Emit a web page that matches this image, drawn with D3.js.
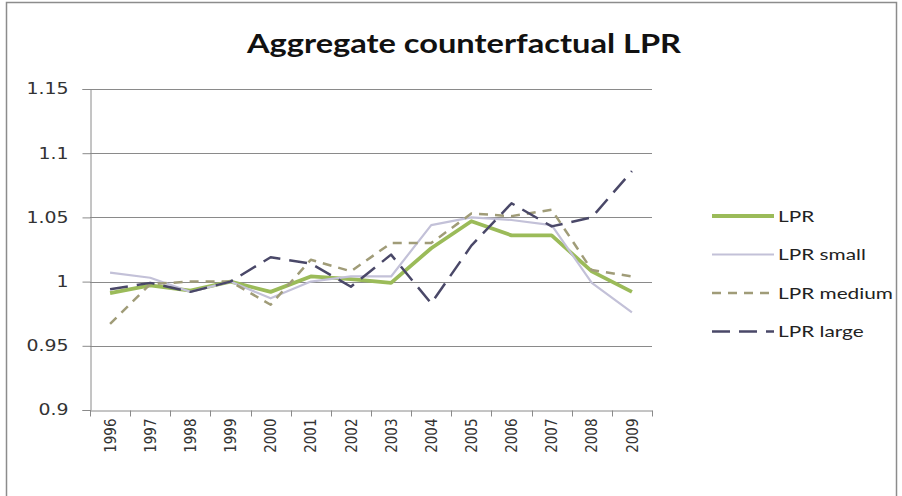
<!DOCTYPE html>
<html>
<head>
<meta charset="utf-8">
<script src="https://cdn.jsdelivr.net/npm/d3@7.9.0/dist/d3.min.js"></script>
<style>
  body { margin: 0; background: #fff; }
  svg { display: block; }
</style>
</head>
<body>
<svg id="chart" width="902" height="496"></svg>
<script>
const years = ['1996', '1997', '1998', '1999', '2000', '2001', '2002', '2003', '2004', '2005', '2006', '2007', '2008', '2009'];
const lpr = [0.991, 0.997, 0.993, 1.0, 0.992, 1.004, 1.002, 0.999, 1.026, 1.047, 1.036, 1.036, 1.008, 0.992];
const lprSmall = [1.007, 1.003, 0.992, 1.0, 0.987, 1.0, 1.004, 1.004, 1.044, 1.05, 1.048, 1.044, 0.999, 0.976];
const lprMedium = [0.967, 0.998, 1.0, 1.0, 0.982, 1.017, 1.008, 1.03, 1.03, 1.053, 1.051, 1.056, 1.009, 1.004];
const lprLarge = [0.994, 0.999, 0.992, 1.0, 1.019, 1.014, 0.996, 1.021, 0.983, 1.028, 1.061, 1.043, 1.05, 1.086];
const yTicks = [0.9, 0.95, 1, 1.05, 1.1, 1.15];

const series = [
  { name: 'LPR', values: lpr, color: '#9bbb59', width: 3.8, dash: null },
  { name: 'LPR small', values: lprSmall, color: '#c3c1d8', width: 2.2, dash: null },
  { name: 'LPR medium', values: lprMedium, color: '#a09c78', width: 2.5, dash: '9,7' },
  { name: 'LPR large', values: lprLarge, color: '#4a4868', width: 2.5, dash: '18,9' }
];

const svg = d3.select('#chart');
const plotLeft = 90, plotRight = 652, plotTop = 89, plotBottom = 410;

// the picture is stretched sideways, so text gets wider glyphs
function stretch(sel, k) {
  sel.each(function () {
    const len = this.getComputedTextLength();
    d3.select(this).attr('textLength', len * k).attr('lengthAdjust', 'spacingAndGlyphs');
  });
}

// outer frame
svg.append('rect')
  .attr('x', 6.5).attr('y', 2.5)
  .attr('width', 890).attr('height', 510)
  .attr('fill', '#fff').attr('stroke', '#8c8c8c').attr('stroke-width', 1.5);

svg.append('text')
  .attr('x', 464).attr('y', 53)
  .attr('text-anchor', 'middle')
  .attr('font-family', 'Lato, sans-serif')
  .attr('font-weight', 'bold')
  .attr('font-size', 27)
  .attr('fill', '#111')
  .text('Aggregate counterfactual LPR')
  .attr('textLength', 434)
  .attr('lengthAdjust', 'spacingAndGlyphs');

const x = d3.scaleBand().domain(years).range([plotLeft, plotRight]);
const y = d3.scaleLinear().domain([0.9, 1.15]).range([plotBottom, plotTop]);

// gridlines
svg.append('g')
  .selectAll('line')
  .data(yTicks.slice(1))
  .join('line')
  .attr('x1', plotLeft).attr('x2', plotRight)
  .attr('y1', (d) => Math.round(y(d)) + 0.5)
  .attr('y2', (d) => Math.round(y(d)) + 0.5)
  .attr('stroke', '#8a8a8a').attr('stroke-width', 1);

// y axis
const yAxis = d3.axisLeft(y).tickValues(yTicks).tickSize(8).tickPadding(14)
  .tickFormat((d) => String(d));
const gy = svg.append('g').attr('transform', `translate(${plotLeft + 0.5},0)`).call(yAxis);
gy.select('.domain').attr('stroke', '#8a8a8a');
gy.selectAll('.tick line').attr('stroke', '#8a8a8a');
gy.selectAll('.tick text')
  .attr('font-family', 'DejaVu Sans, Verdana, sans-serif')
  .attr('font-size', 15.5)
  .attr('fill', '#333')
  .call(stretch, 1.22);

// x axis
const gx = svg.append('g').attr('transform', `translate(0,${Math.round(y(0.9)) + 0.5})`)
  .call(d3.axisBottom(x).tickSize(0).tickPadding(0));
gx.select('.domain').attr('stroke', '#8a8a8a');
gx.selectAll('.tick line').remove();
gx.selectAll('.tick text')
  .attr('font-family', 'DejaVu Sans, Verdana, sans-serif')
  .attr('font-size', 13.5)
  .attr('fill', '#333')
  .attr('text-anchor', 'end')
  .attr('transform', 'translate(0,8) rotate(-90) scale(1,1.2)')
  .attr('dy', '0.35em')
  .attr('x', 0).attr('y', 0);
gx.selectAll('.bound')
  .data(d3.range(years.length + 1))
  .join('line')
  .attr('class', 'bound')
  .attr('x1', (i) => Math.round(plotLeft + i * x.step()) + 0.5)
  .attr('x2', (i) => Math.round(plotLeft + i * x.step()) + 0.5)
  .attr('y1', 0).attr('y2', 6)
  .attr('stroke', '#8a8a8a');

// lines
const line = d3.line()
  .x((d, i) => x(years[i]) + x.bandwidth() / 2)
  .y((d) => y(d));

series.forEach((s) => {
  svg.append('path')
    .datum(s.values)
    .attr('d', line)
    .attr('fill', 'none')
    .attr('stroke', s.color)
    .attr('stroke-width', s.width)
    .attr('stroke-dasharray', s.dash)
    .attr('stroke-linejoin', 'round');
});

// legend
const legend = svg.append('g').selectAll('g')
  .data(series)
  .join('g')
  .attr('transform', (d, i) => `translate(712,${216 + i * 38.5})`);
legend.append('line')
  .attr('x1', 0).attr('x2', 62)
  .attr('stroke', (d) => d.color)
  .attr('stroke-width', (d) => d.width)
  .attr('stroke-dasharray', (d) => d.dash);
legend.append('text')
  .attr('x', 66).attr('dy', '0.35em')
  .attr('font-family', 'Lato, sans-serif')
  .attr('font-size', 16)
  .attr('fill', '#222')
  .text((d) => d.name)
  .call(stretch, 1.3);
</script>
</body>
</html>
